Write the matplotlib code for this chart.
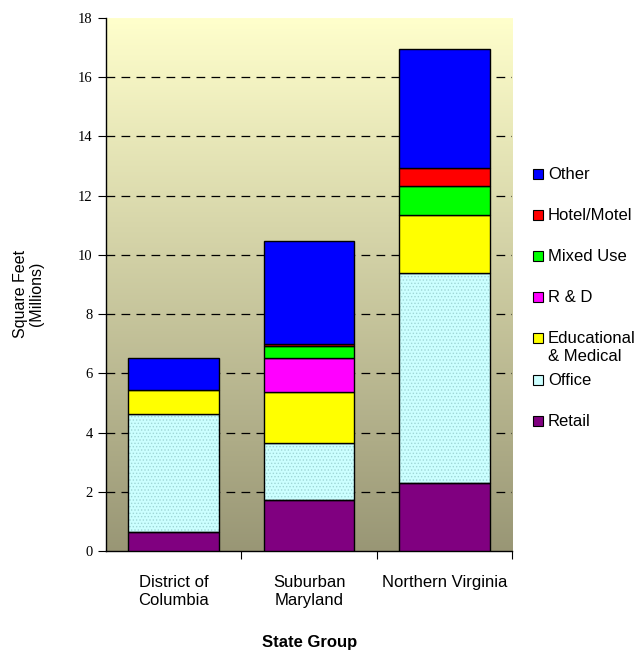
import numpy as np
import matplotlib.pyplot as plt
from matplotlib.patches import Rectangle

# data (millions of sq ft)
groups = ['District of\nColumbia', 'Suburban\nMaryland', 'Northern Virginia']
series = ['Retail', 'Office', 'Educational\n& Medical', 'R & D', 'Mixed Use', 'Hotel/Motel', 'Other']
retail = [0.63, 1.72, 2.29]
office = [4.00, 1.92, 7.09]
educational = [0.80, 1.74, 1.96]
r_and_d = [0.00, 1.13, 0.00]
mixed_use = [0.00, 0.42, 0.98]
hotel = [0.00, 0.07, 0.61]
other = [1.08, 3.46, 4.04]
colors = ['#800080', '#CCFFFF', '#FFFF00', '#FF00FF', '#00FF00', '#FF0000', '#0000FF']
yticks = [0, 2, 4, 6, 8, 10, 12, 14, 16, 18]

values = [retail, office, educational, r_and_d, mixed_use, hotel, other]

plt.rcParams['font.family'] = ['Liberation Sans', 'DejaVu Sans']
plt.rcParams['hatch.linewidth'] = 0.6

fig = plt.figure(figsize=(6.36, 6.5), dpi=100)
ax = fig.add_axes([0.1667, 0.1523, 0.6384, 0.82])

x = np.arange(len(groups))
ax.set_xlim(-0.5, 2.5)
ax.set_ylim(0, 18)

# gradient background
grad = np.linspace(0, 1, 256)[:, None]
top = np.array([1.0, 1.0, 0.80])
bottom = np.array([0.60, 0.59, 0.46])
img = bottom + (top - bottom) * grad
ax.imshow(img[:, None, :].repeat(2, axis=1), extent=(-0.5, 2.5, 0, 18),
          origin='lower', aspect='auto', zorder=0)

for yv in yticks[1:-1]:
    ax.axhline(yv, color='black', lw=0.9, dashes=(7, 5), zorder=1)

bottoms = np.zeros(len(groups))
width = 0.67
for name, vals, c in zip(series, values, colors):
    vals = np.array(vals)
    mask = vals > 0
    if name == 'Office':
        ax.bar(x[mask], vals[mask], width, bottom=bottoms[mask], color=c,
               edgecolor='#9FD6D6', hatch='.....', linewidth=0, zorder=2)
        ax.bar(x[mask], vals[mask], width, bottom=bottoms[mask], fill=False,
               edgecolor='black', linewidth=1, zorder=3)
    else:
        ax.bar(x[mask], vals[mask], width, bottom=bottoms[mask], color=c,
               edgecolor='black', linewidth=1, zorder=3)
    bottoms += vals

ax.set_yticks(yticks)
ax.set_yticklabels([str(v) for v in yticks], family='Liberation Serif', fontsize=10.5)
ax.set_xticks([0.5, 1.5, 2.5], minor=False)
ax.set_xticklabels([])
ax.set_xticks(x, minor=True)
ax.set_xticklabels(groups, minor=True, fontsize=12, linespacing=1.25)
ax.tick_params(axis='x', which='minor', length=0, pad=17)
ax.tick_params(axis='x', which='major', length=6, direction='out')
ax.tick_params(axis='y', length=6, direction='out')
for s in ['top', 'right']:
    ax.spines[s].set_visible(False)
ax.spines['left'].set_linewidth(1)
ax.spines['bottom'].set_linewidth(1)

ax.set_ylabel('Square Feet\n(Millions)', fontsize=11.5, linespacing=1.15)
ax.yaxis.set_label_coords(-0.152, 0.482)
fig.text(0.487, 0.0, 'State Group', ha='center', va='bottom',
         fontsize=12, fontweight='bold')

# legend drawn as equally spaced entries, top entry first
legend_y = [174, 215, 256, 297, 338, 380, 421]
for name, c, yp in zip(series[::-1], colors[::-1], legend_y):
    yf = 1 - yp / 650
    fig.patches.append(Rectangle((533 / 636, yf - 5 / 650), 10 / 636, 10 / 650,
                                 transform=fig.transFigure, facecolor=c,
                                 edgecolor='black', linewidth=0.8))
    fig.text(548 / 636, yf + 7 / 650, name, ha='left', va='top', fontsize=12,
             linespacing=1.22)

fig.savefig('out.png', dpi=100)
